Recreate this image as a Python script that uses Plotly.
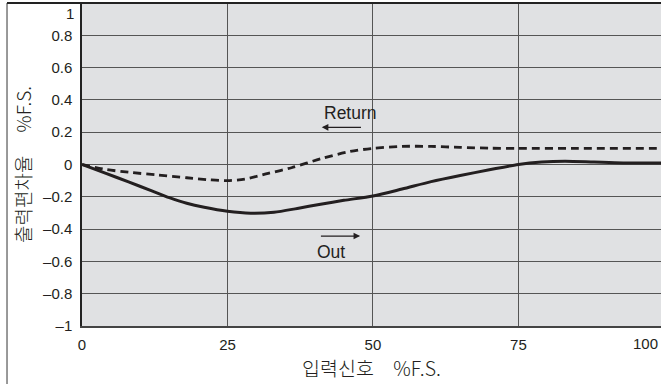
import plotly.graph_objects as go

# Input signal (%F.S.) vs. output deviation (%F.S.)
out_x = [0, 4, 8, 12, 15, 18, 21, 25, 29, 33, 37, 41, 45, 50, 55, 60, 65, 70, 75, 79, 83, 88, 93, 100]
out_y = [0, -0.053, -0.108, -0.163, -0.205, -0.24, -0.265, -0.29, -0.302, -0.296, -0.272,
         -0.246, -0.222, -0.195, -0.152, -0.106, -0.068, -0.033, 0, 0.015, 0.02, 0.015, 0.01, 0.01]

ret_x = [0, 4, 8, 13, 18, 22, 25, 28, 32, 36, 41, 46, 50, 55, 60, 65, 70, 75, 85, 100]
ret_y = [0, -0.03, -0.048, -0.065, -0.082, -0.095, -0.1, -0.09, -0.055, -0.02, 0.035, 0.08,
         0.1, 0.112, 0.112, 0.106, 0.101, 0.1, 0.1, 0.1]

y_ticks = [-1, -0.8, -0.6, -0.4, -0.2, 0, 0.2, 0.4, 0.6, 0.8]
y_tick_text = ["\u20131", "\u20130.8", "\u20130.6", "\u20130.4", "\u20130.2", "0", "0.2", "0.4", "0.6", "0.8"]
y_top_label = "1"
x_ticks = [0, 25, 50, 75]
x_tick_text = ["0", "25", "50", "75"]
x_end_label = "100"

FONT = "Liberation Sans, Arial, Noto Sans CJK KR, sans-serif"
KFONT = "Noto Sans CJK KR, Liberation Sans, sans-serif"
INK = "#231f20"
GRID = "#555555"

fig = go.Figure()
fig.add_trace(go.Scatter(x=ret_x, y=ret_y, mode="lines", name="Return",
                         line=dict(color=INK, width=2.8, dash="8px,5px", shape="spline", smoothing=0.8)))
fig.add_trace(go.Scatter(x=out_x, y=out_y, mode="lines", name="Out",
                         line=dict(color=INK, width=3, shape="spline", smoothing=0.8)))

annotations = [
    dict(text="Return", x=46.2, y=0.32, xref="x", yref="y", showarrow=False,
         font=dict(family=FONT, size=17.5, color=INK)),
    dict(text="", x=41.2, y=0.23, ax=48.2, ay=0.23, xref="x", yref="y", axref="x", ayref="y",
         showarrow=True, arrowhead=2, arrowsize=1.1, arrowwidth=1.2, arrowcolor=INK),
    dict(text="Out", x=42.8, y=-0.54, xref="x", yref="y", showarrow=False,
         font=dict(family=FONT, size=17.5, color=INK)),
    dict(text="", x=47.8, y=-0.443, ax=40.8, ay=-0.443, xref="x", yref="y", axref="x", ayref="y",
         showarrow=True, arrowhead=2, arrowsize=1.1, arrowwidth=1.2, arrowcolor=INK),
    dict(text=y_top_label, x=0, y=0.932, xref="paper", yref="y", xanchor="right", xshift=-6,
         showarrow=False, font=dict(family=FONT, size=15, color=INK)),
    dict(text=x_end_label, x=96.8, y=0, xref="x", yref="paper", yanchor="top", yshift=-7,
         showarrow=False, font=dict(family=FONT, size=15, color=INK)),
]

shapes = [
    # outer frame: left and top edges
    dict(type="line", xref="paper", yref="paper", x0=-0.1295, x1=-0.1295, y0=1, y1=-0.3,
         line=dict(color="#777777", width=1.5)),
    dict(type="line", xref="paper", yref="paper", x0=-0.1295, x1=1.05, y0=1, y1=1,
         line=dict(color="#222222", width=2)),
]

fig.update_layout(
    width=661, height=384,
    margin=dict(l=82, r=0, t=3, b=58),
    paper_bgcolor="white",
    plot_bgcolor="#e0e1e3",
    showlegend=False,
    font=dict(family=FONT, size=15, color=INK),
    annotations=annotations,
    shapes=shapes,
    xaxis=dict(
        range=[0, 99.5], tickvals=x_ticks, ticktext=x_tick_text,
        showgrid=True, gridcolor=GRID, gridwidth=1.3,
        showline=True, linecolor="#444444", linewidth=1.5,
        zeroline=False, ticks="", ticklabelstandoff=4,
        title=dict(text="입력신호\u3000%F.S.", font=dict(family=KFONT, size=19.5, color=INK, weight=300),
                   standoff=8),
    ),
    yaxis=dict(
        range=[-1, 1], tickvals=y_ticks, ticktext=y_tick_text,
        showgrid=True, gridcolor=GRID, gridwidth=1.3,
        showline=True, linecolor="#222222", linewidth=1.5,
        zeroline=False, ticks="", ticklabelstandoff=5,
        title=dict(text="출력편차율\u3000 %F.S.", font=dict(family=KFONT, size=19, color=INK, weight=300),
                   standoff=6),
    ),
)

fig.write_html("out.html")
